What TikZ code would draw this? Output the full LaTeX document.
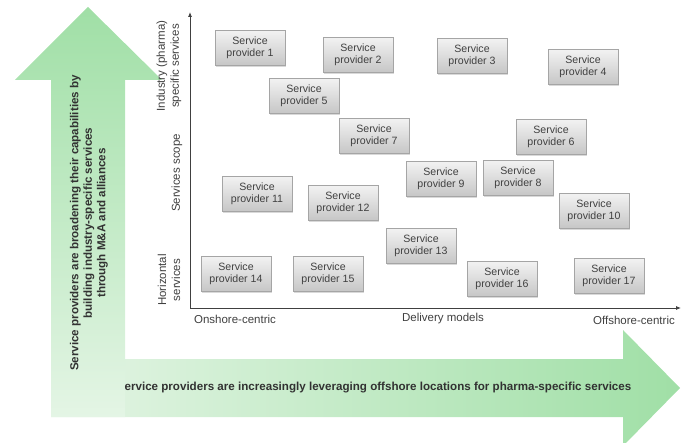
\documentclass[tikz,border=0pt]{standalone}
\usepackage{fontspec}
\setmainfont{Liberation Sans}
\usetikzlibrary{shadows,arrows.meta}
\definecolor{gstrong}{RGB}{160,223,166}
\definecolor{glight}{RGB}{228,245,229}
\definecolor{txt}{RGB}{64,64,64}
\definecolor{btxt}{RGB}{50,50,50}
\definecolor{boxtop}{RGB}{242,242,242}
\definecolor{boxbot}{RGB}{198,198,198}
\definecolor{boxedge}{RGB}{165,165,165}
\begin{document}
\begin{tikzpicture}[x=1pt,y=-1pt,
  spbox/.style={draw=boxedge, line width=0.6pt, top color=boxtop, bottom color=boxbot,
    minimum width=70pt, minimum height=35pt, inner sep=0pt, align=center, text=txt,
    font=\fontsize{10.6}{12.5}\selectfont,
    drop shadow={shadow xshift=1pt, shadow yshift=-1.5pt, opacity=0.3}},
  axlabel/.style={text=txt, font=\fontsize{11.5}{14}\selectfont, align=center},
  axisline/.style={draw=txt, line width=0.8pt, -{Latex[length=5pt,width=4pt]}},
  boldtxt/.style={text=btxt, font=\bfseries\fontsize{11.6}{13.5}\selectfont, align=center}]
\useasboundingbox (0,0) rectangle (685,443);
% horizontal big arrow
\shade[left color=glight, right color=gstrong]
  (51,359) -- (623,359) -- (623,330) -- (680,388) -- (623,446) -- (623,417) -- (51,417) -- cycle;
% vertical big arrow
\shade[top color=gstrong, bottom color=glight]
  (51,417) -- (51,80) -- (15,80) -- (88,7) -- (162,80) -- (125,80) -- (125,417) -- cycle;
\node[boldtxt] (htext) at (378,388) {ervice providers are increasingly leveraging offshore locations for pharma-specific services};
\node[boldtxt, rotate=90] (vtext) at (89,223) {Service providers are broadening their capabilities by\\building industry-specific services\\through M\&A and alliances};
% axes
\coordinate (O) at (190,308);
\coordinate (ytop) at (190,12);
\coordinate (xend) at (681,308);
\draw[axisline] (O) -- (ytop);
\draw[axisline] (O) -- (xend);
% axis labels
\node[axlabel, rotate=90] (ylab1) at (169,66) {Industry (pharma)\\specific services};
\node[axlabel, rotate=90] (ylab2) at (177,173) {Services scope};
\node[axlabel, rotate=90] (ylab3) at (169,280) {Horizontal\\services};
\node[axlabel] (xlab1) at (235,319) {Onshore-centric};
\node[axlabel] (xlab2) at (443,319) {Delivery models};
\node[axlabel] (xlab3) at (634,320) {Offshore-centric};
% boxes
\node[spbox] (sp1) at (250,48) {Service\\provider 1};
\node[spbox] (sp2) at (358,55) {Service\\provider 2};
\node[spbox] (sp3) at (472,56) {Service\\provider 3};
\node[spbox] (sp4) at (583,67) {Service\\provider 4};
\node[spbox] (sp5) at (304,96) {Service\\provider 5};
\node[spbox] (sp6) at (551,137) {Service\\provider 6};
\node[spbox] (sp7) at (374,136) {Service\\provider 7};
\node[spbox] (sp8) at (518,178) {Service\\provider 8};
\node[spbox] (sp9) at (441,179) {Service\\provider 9};
\node[spbox] (sp10) at (594,211) {Service\\provider 10};
\node[spbox] (sp11) at (257,194) {Service\\provider 11};
\node[spbox] (sp12) at (343,203) {Service\\provider 12};
\node[spbox] (sp13) at (421,246) {Service\\provider 13};
\node[spbox] (sp14) at (236,274) {Service\\provider 14};
\node[spbox] (sp15) at (328,274) {Service\\provider 15};
\node[spbox] (sp16) at (502,279) {Service\\provider 16};
\node[spbox] (sp17) at (609,276) {Service\\provider 17};
\end{tikzpicture}
\end{document}
